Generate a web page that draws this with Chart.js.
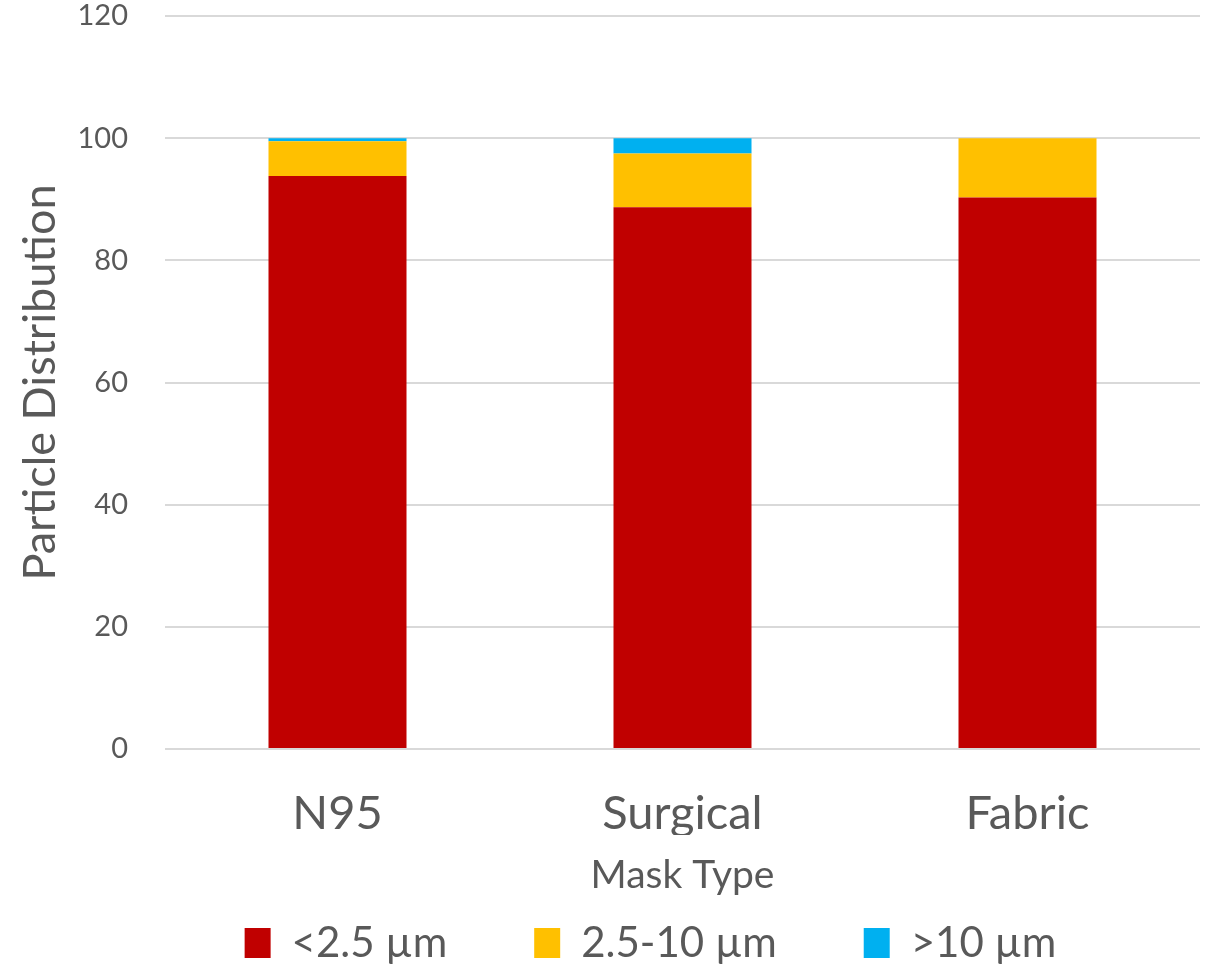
<!DOCTYPE html>
<html>
<head>
<meta charset="utf-8">
<script src="https://cdn.jsdelivr.net/npm/chart.js@4/dist/chart.umd.min.js"></script>
<style>
html,body{margin:0;padding:0;background:#fff;}
#wrap{width:1221px;height:974px;position:relative;}
</style>
</head>
<body>
<div id="wrap"><canvas id="c" width="1221" height="974"></canvas></div>
<script>
const categories = ["N95", "Surgical", "Fabric"];
const seriesNames = ["<2.5 µm", "2.5-10 µm", ">10 µm"];
const small = [93.8, 88.7, 90.3];
const medium = [5.7, 8.8, 9.7];
const large = [0.5, 2.5, 0];
const yTicks = [0, 20, 40, 60, 80, 100, 120];
const colors = ["#C00000", "#FFC000", "#00B0F0"];

const font = "Lato, 'Open Sans', sans-serif";
const grey = "#595959";

const legendShift = {
  id: 'legendShift',
  afterLayout(chart) {
    if (chart.legend) { chart.legend.left += 44; chart.legend.right += 44; }
  }
};

new Chart(document.getElementById('c'), {
  type: 'bar',
  data: {
    labels: categories,
    datasets: [
      {label: seriesNames[0], data: small, backgroundColor: colors[0]},
      {label: seriesNames[1], data: medium, backgroundColor: colors[1]},
      {label: seriesNames[2], data: large, backgroundColor: colors[2]}
    ].map(d => Object.assign(d, {categoryPercentage: 1, barPercentage: 0.4, borderWidth: 0}))
  },
  plugins: [legendShift],
  options: {
    responsive: false,
    animation: false,
    devicePixelRatio: 1,
    layout: {padding: {left: 13, right: 21, top: 0, bottom: 0}},
    plugins: {
      tooltip: {enabled: false},
      legend: {
        position: 'bottom',
        labels: {
          font: {family: font, size: 42},
          color: grey,
          boxWidth: 26,
          boxHeight: 30,
          padding: 87
        }
      }
    },
    scales: {
      x: {
        stacked: true,
        grid: {display: false, drawTicks: false},
        border: {display: false},
        ticks: {font: {family: font, size: 47}, color: grey, padding: 37},
        title: {display: true, text: 'Mask Type', font: {family: font, size: 39}, color: grey, padding: {top: 0, bottom: -64}},
        afterFit: s => { s.height = 86; }
      },
      y: {
        stacked: true,
        min: 0, max: 120,
        afterBuildTicks: ax => { ax.ticks = yTicks.map(v => ({value: v})); },
        grid: {color: '#d9d9d9', lineWidth: 2, drawTicks: false},
        border: {display: false},
        ticks: {font: {family: font, size: 29}, color: grey, padding: 37},
        title: {display: true, text: 'Particle Distribution', font: {family: font, size: 45}, color: grey, padding: 0},
        afterFit: s => { s.width = 152; s.paddingTop = 16; }
      }
    }
  }
});
</script>
</body>
</html>
